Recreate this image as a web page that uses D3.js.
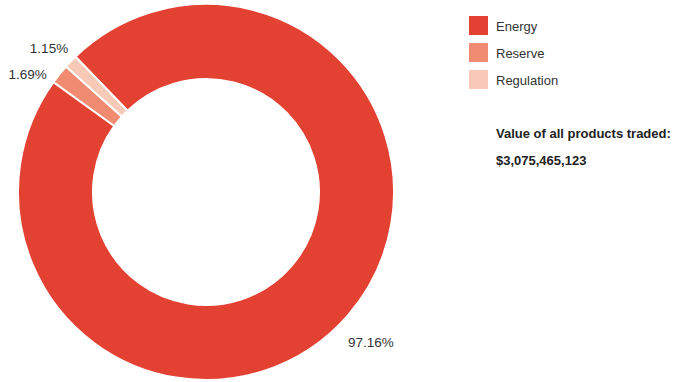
<!DOCTYPE html>
<html>
<head>
<meta charset="utf-8">
<script src="https://cdn.jsdelivr.net/npm/d3@7/dist/d3.min.js"></script>
<style>
  html, body { margin: 0; padding: 0; background: #fff; }
  svg { display: block; font-family: "Liberation Sans", Arial, Helvetica, sans-serif; }
</style>
</head>
<body>
<svg id="chart" width="674" height="382"></svg>
<script>
// Share of traded value by product (percent)
const products = ["Energy", "Reserve", "Regulation"];
const shares = [97.16, 1.69, 1.15];
const colors = ["#e34131", "#f08a70", "#f9c9b7"];
const totalLabel = "Value of all products traded:";
const totalValue = "$3,075,465,123";

const svg = d3.select("#chart");
const cx = 206, cy = 192;
const outerR = 188, innerR = 113;
const labelR = outerR + 30;

const color = d3.scaleOrdinal().domain(products).range(colors);

const pie = d3.pie()
  .sort(null)
  .value(d => d.value)
  .startAngle(-44 * Math.PI / 180)
  .endAngle(316 * Math.PI / 180);

const data = products.map((p, i) => ({ name: p, value: shares[i] }));
const arcs = pie(data);

const arc = d3.arc().innerRadius(innerR).outerRadius(outerR);
const labelArc = d3.arc().innerRadius(labelR).outerRadius(labelR);

const g = svg.append("g").attr("transform", `translate(${cx},${cy})`);

g.selectAll("path.slice")
  .data(arcs)
  .join("path")
  .attr("class", "slice")
  .attr("d", arc)
  .attr("fill", d => color(d.data.name))
  .attr("stroke", "#fff")
  .attr("stroke-width", 2);

// Outside labels; crowded ones slide down along the label circle
const labels = arcs.map(d => {
  const [x, y] = labelArc.centroid(d);
  return { d, x, y };
});
const minGap = 26;
const leftSide = labels.filter(l => l.x < 0).sort((a, b) => a.y - b.y);
for (let i = 1; i < leftSide.length; i++) {
  const l = leftSide[i];
  if (l.y - leftSide[i - 1].y < minGap) {
    l.y = leftSide[i - 1].y + minGap;
    l.x = -Math.sqrt(Math.max(0, labelR * labelR - l.y * l.y));
  }
}

g.selectAll("text.pct")
  .data(labels)
  .join("text")
  .attr("class", "pct")
  .attr("x", l => l.x)
  .attr("y", l => l.y)
  .attr("dy", "0.9em")
  .attr("text-anchor", "middle")
  .attr("font-size", 13.5)
  .attr("fill", "#333")
  .text(l => l.d.data.value.toFixed(2) + "%");

// Legend
const legend = svg.append("g").attr("transform", "translate(469,16)");
const item = legend.selectAll("g.item")
  .data(products)
  .join("g")
  .attr("class", "item")
  .attr("transform", (d, i) => `translate(0,${i * 27})`);
item.append("rect")
  .attr("width", 19)
  .attr("height", 19)
  .attr("fill", d => color(d));
item.append("text")
  .attr("x", 27)
  .attr("y", 10)
  .attr("dy", "0.35em")
  .attr("font-size", 13)
  .attr("fill", "#333")
  .text(d => d);

// Total traded value
svg.append("text")
  .attr("x", 496)
  .attr("y", 133)
  .attr("dy", "0.35em")
  .attr("font-size", 13)
  .attr("font-weight", "bold")
  .attr("fill", "#222")
  .text(totalLabel);
svg.append("text")
  .attr("x", 496)
  .attr("y", 160)
  .attr("dy", "0.35em")
  .attr("font-size", 13)
  .attr("font-weight", "bold")
  .attr("fill", "#222")
  .text(totalValue);
</script>
</body>
</html>
